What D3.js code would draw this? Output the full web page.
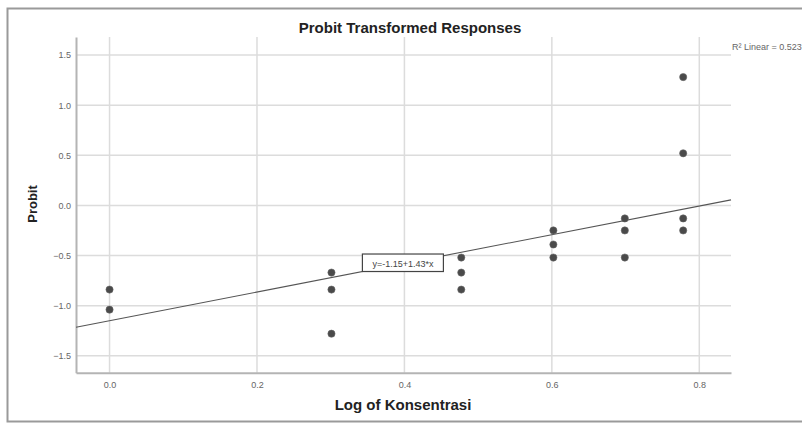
<!DOCTYPE html>
<html>
<head>
<meta charset="utf-8">
<script src="https://cdn.jsdelivr.net/npm/d3@7"></script>
<style>
  body { margin: 0; background: #fff; }
  svg { display: block; font-family: "Liberation Sans", Arial, sans-serif; }
</style>
</head>
<body>
<svg id="svg" width="802" height="424"></svg>
<script>
// log of konsentrasi and probit values
var log_x = [0, 0, 0.30103, 0.30103, 0.30103, 0.47712, 0.47712, 0.47712,
             0.60206, 0.60206, 0.60206, 0.69897, 0.69897, 0.69897,
             0.77815, 0.77815, 0.77815, 0.77815];
var probit = [-0.84, -1.04, -0.67, -0.84, -1.28, -0.52, -0.67, -0.84,
              -0.25, -0.39, -0.52, -0.13, -0.25, -0.52,
              1.28, 0.52, -0.13, -0.25];
var x_ticks = [0, 0.2, 0.4, 0.6, 0.8];
var y_ticks = [-1.5, -1.0, -0.5, 0, 0.5, 1.0, 1.5];
var fit = [-1.15, 1.43]; // intercept, slope
var fit_label = "y=-1.15+1.43*x";
var r2_label = "R\u00b2 Linear = 0.523";

var svg = d3.select("#svg");

var x = d3.scaleLinear().domain([-0.0455, 0.843]).range([76, 731]);
var y = d3.scaleLinear().domain([-1.669, 1.68]).range([372.7, 37]);

// outer frame
svg.append("rect")
   .attr("x", 7.5).attr("y", 8.5)
   .attr("width", 810).attr("height", 413)
   .attr("fill", "none").attr("stroke", "#9a9a9a").attr("stroke-width", 2);

// grid
var grid = svg.append("g");
grid.selectAll(".hg").data(y_ticks).enter().append("line")
    .attr("x1", x.range()[0]).attr("x2", x.range()[1])
    .attr("y1", function (d) { return y(d); })
    .attr("y2", function (d) { return y(d); })
    .attr("stroke", "#dcdcdc").attr("stroke-width", 1.5);
grid.selectAll(".vg").data(x_ticks).enter().append("line")
    .attr("y1", y.range()[0]).attr("y2", y.range()[1])
    .attr("x1", function (d) { return x(d); })
    .attr("x2", function (d) { return x(d); })
    .attr("stroke", "#dcdcdc").attr("stroke-width", 1.5);

// axes
var xAxis = svg.append("g")
   .attr("transform", "translate(0," + y.range()[0] + ")")
   .call(d3.axisBottom(x).tickValues(x_ticks).tickFormat(d3.format(".1f")).tickSize(0).tickPadding(9));
var yAxis = svg.append("g")
   .attr("transform", "translate(" + x.range()[0] + ",0)")
   .call(d3.axisLeft(y).tickValues(y_ticks).tickFormat(d3.format(".1f")).tickSize(0).tickPadding(5));

[xAxis, yAxis].forEach(function (a) {
  a.select(".domain").attr("stroke", "#b4b4b4").attr("stroke-width", 2);
  a.selectAll("text").attr("fill", "#666").style("font-size", "9px");
});

// fit line
svg.append("line")
   .attr("x1", x(x.domain()[0])).attr("y1", y(fit[0] + fit[1] * x.domain()[0]))
   .attr("x2", x(x.domain()[1])).attr("y2", y(fit[0] + fit[1] * x.domain()[1]))
   .attr("stroke", "#555").attr("stroke-width", 1.1);

// points
svg.selectAll(".pt").data(log_x).enter().append("circle")
   .attr("cx", function (d) { return x(d); })
   .attr("cy", function (d, i) { return y(probit[i]); })
   .attr("r", 3.6)
   .attr("fill", "#4a4a4a").attr("stroke", "#666").attr("stroke-width", 0.6);

// equation label
var lx = x(0.343), ly = y(-0.485);
svg.append("rect")
   .attr("x", lx).attr("y", ly).attr("width", 81).attr("height", 17.5)
   .attr("fill", "#fff").attr("stroke", "#444").attr("stroke-width", 1.2);
svg.append("text")
   .attr("x", lx + 40.5).attr("y", ly + 12.5)
   .attr("text-anchor", "middle")
   .attr("fill", "#444").style("font-size", "9px")
   .text(fit_label);

// titles
svg.append("text")
   .attr("x", 410).attr("y", 33)
   .attr("text-anchor", "middle")
   .style("font-size", "15px").style("font-weight", "bold").attr("fill", "#222")
   .text("Probit Transformed Responses");
svg.append("text")
   .attr("x", 403).attr("y", 410)
   .attr("text-anchor", "middle")
   .style("font-size", "15px").style("font-weight", "bold").attr("fill", "#222")
   .text("Log of Konsentrasi");
svg.append("text")
   .attr("transform", "translate(37,204) rotate(-90)")
   .attr("text-anchor", "middle")
   .style("font-size", "13px").style("font-weight", "bold").attr("fill", "#222")
   .text("Probit");
svg.append("text")
   .attr("x", 732).attr("y", 50)
   .attr("fill", "#666").style("font-size", "9px")
   .text(r2_label);
</script>
</body>
</html>
